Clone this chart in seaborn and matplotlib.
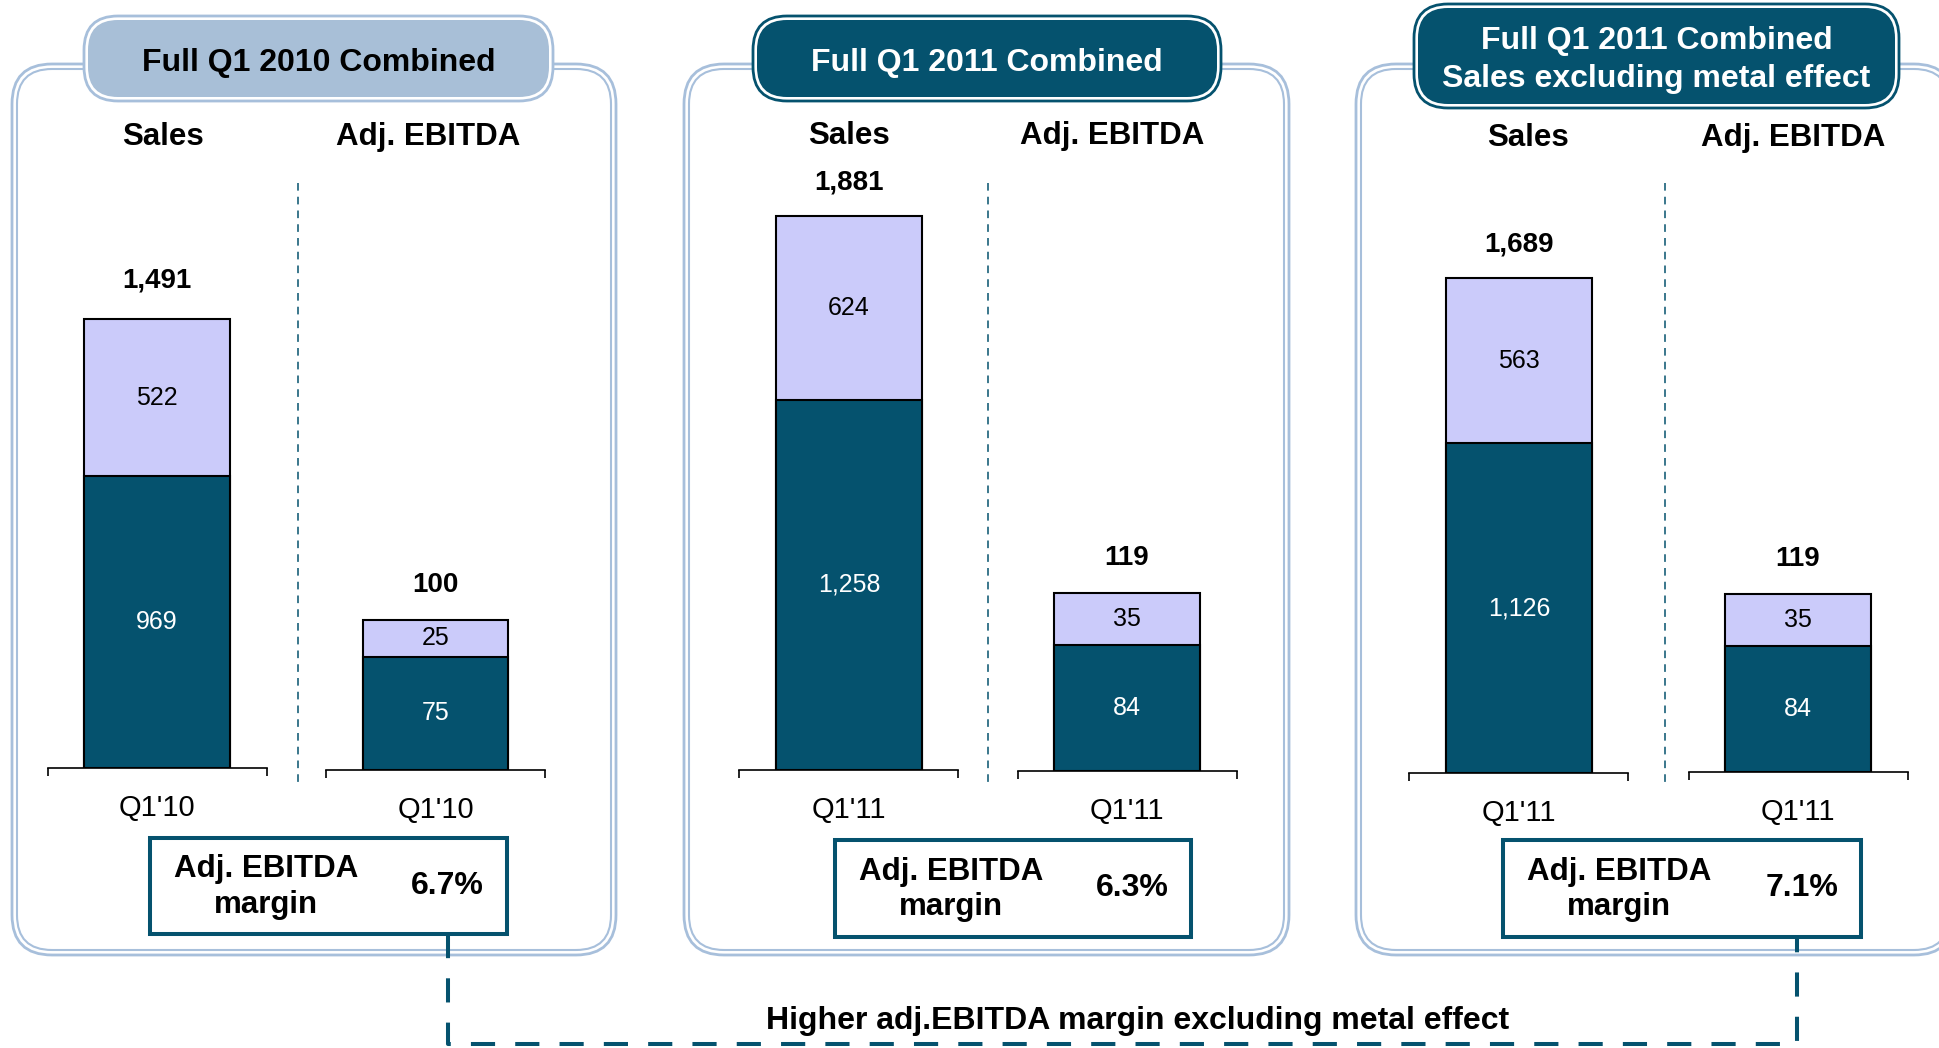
import pandas as pd
import matplotlib.pyplot as plt
import seaborn as sns
from matplotlib.patches import FancyBboxPatch, Rectangle, Polygon

# Data
panel_titles = ["Full Q1 2010 Combined",
                "Full Q1 2011 Combined",
                "Full Q1 2011 Combined\nSales excluding metal effect"]
periods = ["Q1'10", "Q1'11", "Q1'11"]
sales_base = [969, 1258, 1126]
sales_top = [522, 624, 563]
sales_total = [1491, 1881, 1689]
ebitda_base = [75, 84, 84]
ebitda_top = [25, 35, 35]
ebitda_total = [100, 119, 119]
margins = ["6.7%", "6.3%", "7.1%"]
footer = "Higher adj.EBITDA margin excluding metal effect"

DARK = '#05526e'
LIGHT = '#cbcbfa'
PILL_LIGHT = '#a8bfd7'
FRAME = '#a7bfdb'

W, H = 1940, 1048

# Layout in pixels (figure coords, y down)
frame_x = [12, 684, 1356]
frame_w = [604, 605, 598]
frame_top, frame_bot = 64, 955
pills = [(84, 16, 469, 85), (753, 16, 468, 85), (1414, 4, 485, 104)]
pill_light = [True, False, False]
header_y = [137, 136, 138]
sales_hx = [163, 849, 1528]
ebitda_hx = [428, 1112, 1793]
sales_cx = [157, 849, 1519]
sales_base_y = [768, 769.5, 773]
sales_scale = [0.301, 0.294, 0.293]
ebitda_cx = [435.5, 1127, 1798]
ebitda_base_y = [769.5, 771, 772]
divider_x = [298, 988, 1665]
boxes = [(150, 838, 357, 96), (835, 840, 356, 97), (1503, 840, 358, 97)]
total_offset = [23, 19, 19]

sns.set_style('white')
plt.rcParams['font.family'] = ['Liberation Sans', 'DejaVu Sans']
plt.rcParams['text.color'] = 'black'
plt.rcParams['xtick.color'] = 'black'
plt.rcParams['xtick.labelcolor'] = 'black'

fig = plt.figure(figsize=(W / 100, H / 100), dpi=100)
fig.patch.set_facecolor('white')
bg = fig.add_axes([0, 0, 1, 1])
bg.set_xlim(0, W)
bg.set_ylim(H, 0)
bg.axis('off')


def rbox(x, y, w, h, r, **kw):
    # rounded box, flattened to a polygon so it clips cleanly at the canvas edge
    fb = FancyBboxPatch((x, y), w, h, boxstyle=f"round,pad=0,rounding_size={r}")
    verts = fb.get_path().to_polygons()[0]
    p = Polygon(verts, closed=True, **kw)
    bg.add_patch(p)
    return p


def bar_axes(cx, base_y, scale, ymax, base, top, total, period, offset):
    aw = 219
    ax = fig.add_axes([(cx - aw / 2) / W, (H - base_y) / H, aw / W, ymax * scale / H])
    ax.patch.set_alpha(0)
    df = pd.DataFrame({'period': [period], 'total': [base + top], 'base': [base]})
    sns.barplot(data=df, x='period', y='total', color=LIGHT, saturation=1, width=1.0,
                edgecolor='black', linewidth=1.5, ax=ax)
    sns.barplot(data=df, x='period', y='base', color=DARK, saturation=1, width=1.0,
                edgecolor='black', linewidth=1.5, ax=ax)
    ax.set_xlim(-0.75, 0.75)
    ax.set_ylim(0, ymax)
    ax.set_xlabel('')
    ax.set_ylabel('')
    ax.set_yticks([])
    for s in ['left', 'right', 'top']:
        ax.spines[s].set_visible(False)
    ax.spines['bottom'].set_color('black')
    ax.spines['bottom'].set_linewidth(1.2)
    ax.tick_params(axis='x', which='major', length=0, pad=19, labelsize=21, labelcolor='black')
    ax.set_xticks([-0.75, 0.75], minor=True)
    ax.tick_params(axis='x', which='minor', bottom=True, length=6, width=1.2,
                   direction='out', color='black')
    ax.text(0, base / 2, f"{base:,}", ha='center', va='center', color='white', fontsize=18)
    ax.text(0, base + top / 2, f"{top:,}", ha='center', va='center', color='black', fontsize=18)
    ax.annotate(f"{total:,}", (0, base + top), xytext=(0, offset), textcoords='offset points',
                ha='center', va='baseline', fontsize=20, fontweight='bold',
                color='black', annotation_clip=False)
    return ax


for i in range(3):
    fx = frame_x[i]
    fw = frame_w[i]
    # double-line rounded frame
    rbox(fx, frame_top, fw, frame_bot - frame_top, 40, fc='white', ec=FRAME, lw=2.0, zorder=1)
    rbox(fx + 5, frame_top + 5, fw - 10, frame_bot - frame_top - 10, 35,
         fc='none', ec=FRAME, lw=1.5, zorder=1)

    # title pill
    px, py, pw, ph = pills[i]
    if pill_light[i]:
        rbox(px, py, pw, ph, 34, fc='white', ec=FRAME, lw=2.0, zorder=2)
        rbox(px + 4, py + 4, pw - 8, ph - 8, 30, fc=PILL_LIGHT, ec='none', zorder=2)
        tcol = 'black'
    else:
        rbox(px, py, pw, ph, 34, fc='white', ec=DARK, lw=2.0, zorder=2)
        rbox(px + 4, py + 4, pw - 8, ph - 8, 30, fc=DARK, ec='none', zorder=2)
        tcol = 'white'
    bg.text(px + pw / 2, py + ph / 2 + 4, panel_titles[i], ha='center', va='center',
            color=tcol, fontsize=23, fontweight='bold', zorder=3, linespacing=1.35)

    # headers
    bg.text(sales_hx[i], header_y[i], "Sales", ha='center', va='center',
            fontsize=22.5, fontweight='bold', zorder=3)
    bg.text(ebitda_hx[i], header_y[i], "Adj. EBITDA", ha='center', va='center',
            fontsize=22.5, fontweight='bold', zorder=3)

    # divider
    bg.plot([divider_x[i], divider_x[i]], [183, 786], color=DARK, lw=1.1,
            ls=(0, (5, 4)), zorder=2)

    # margin box
    bx, by, bw, bh = boxes[i]
    bg.add_patch(Rectangle((bx, by), bw, bh, fc='white', ec=DARK, lw=2.9, zorder=3))
    bg.text(bx + 0.325 * bw, by + bh / 2 + 1, "Adj. EBITDA\nmargin", ha='center', va='center',
            fontsize=22.5, fontweight='bold', zorder=4, linespacing=1.25)
    bg.text(bx + 0.834 * bw, by + bh / 2, margins[i], ha='center', va='center',
            fontsize=23, fontweight='bold', zorder=4)

    # bars
    bar_axes(sales_cx[i], sales_base_y[i], sales_scale[i], 2000,
             sales_base[i], sales_top[i], sales_total[i], periods[i], total_offset[i])
    bar_axes(ebitda_cx[i], ebitda_base_y[i], 1.50, 200,
             ebitda_base[i], ebitda_top[i], ebitda_total[i], periods[i], 20)

# connector between the first and last margin boxes
x1 = boxes[0][0] + 0.834 * boxes[0][2]
x3 = boxes[2][0] + 0.822 * boxes[2][2]
bg.plot([x1, x1, x3, x3], [boxes[0][1] + boxes[0][3], 1044, 1044, boxes[2][1] + boxes[2][3]],
        color=DARK, lw=2.9, ls=(0, (6, 5)), zorder=2)
bg.text(1138, 1021, footer, ha='center', va='center', fontsize=23, fontweight='bold', zorder=3)

fig.savefig('out.png', dpi=100)
